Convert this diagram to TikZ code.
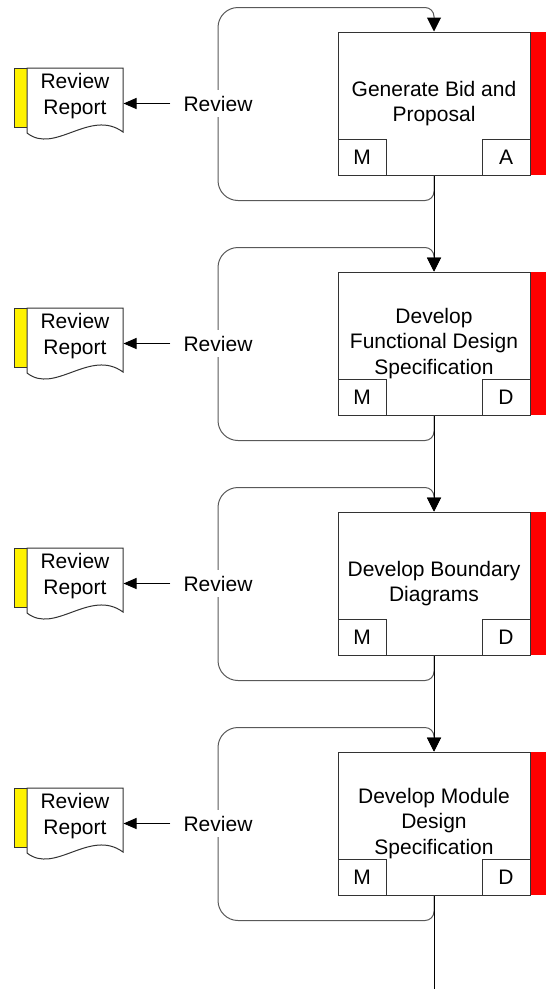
\documentclass[tikz,border=0pt]{standalone}
\usepackage{fontspec}
\setmainfont{Liberation Sans}
\usetikzlibrary{arrows.meta,calc}
\tikzset{
  box/.style={draw=black!80, line width=1bp, minimum width=192bp, minimum height=143bp, inner sep=0pt, align=center},
  tagbox/.style={draw=black!80, line width=1bp, minimum width=48bp, minimum height=36bp, inner sep=0pt, text height=15bp, text depth=0pt},
  loopline/.style={draw=black!65, line width=1bp, -{Triangle[length=14bp,width=14bp,color=black]}},
  flow/.style={draw=black, line width=1bp, -{Triangle[length=14bp,width=14bp]}},
  plainflow/.style={draw=black, line width=1bp},
  revlabel/.style={fill=white, inner xsep=2bp, inner ysep=6bp, text height=15bp, text depth=0pt},
  doctext/.style={align=center, inner sep=0pt},
  docshape/.style={draw=black!80, line width=1bp, fill=white},
  barshape/.style={draw=black!80, line width=1bp, fill=yellow},
  redbar/.style={fill=red},
  outarrow/.style={draw=black, line width=1bp, shorten <=11bp, -{Triangle[length=13bp,width=11bp]}},
}
\newcommand\stageblock[4]{%
  \begin{scope}[shift={(0,#2)}]
    \fill[redbar] (530,32) rectangle (547,175);
    \node[box] (b#1) at (434,103.5) {#3};
    \node[tagbox, anchor=south west] (m#1) at (b#1.south west) {M};
    \node[tagbox, anchor=south east] (t#1) at (b#1.south east) {#4};
    \draw[loopline] (b#1.south) -- ++(0,16) arc(0:90:9) -- ++(-187,0) arc(90:180:20)
      -- ++(0,-153) arc(180:270:20) -- ++(187,0) arc(270:360:9) -- (b#1.north);
    \node[revlabel] (r#1) at (218,103.5) {Review};
    \fill[barshape] (14,68) rectangle (27,127);
    \draw[docshape] (27,68) -- (123,68) -- (123,132) .. controls (90,108) and (55,155) .. (27,133) -- cycle;
    \node[doctext] (d#1) at (75,96) {Review\\Report};
    \coordinate (de#1) at (123.5,103.5);
    \draw[outarrow] (r#1.west) -- (de#1);
  \end{scope}}
\begin{document}
\begin{tikzpicture}[x=1bp, y=-1bp, font=\fontsize{21bp}{25.5bp}\selectfont]
  \useasboundingbox (0,0) rectangle (546,989);
  \stageblock{1}{0}{Generate Bid and\\Proposal}{A}
  \stageblock{2}{240}{Develop\\Functional Design\\Specification}{D}
  \stageblock{3}{480}{Develop Boundary\\Diagrams}{D}
  \stageblock{4}{720}{Develop Module\\Design\\Specification}{D}
  \draw[flow] (b1.south) -- (b2.north);
  \draw[flow] (b2.south) -- (b3.north);
  \draw[flow] (b3.south) -- (b4.north);
  \coordinate (end) at (434,989);
  \draw[plainflow] (b4.south) -- (end);
\end{tikzpicture}
\end{document}
